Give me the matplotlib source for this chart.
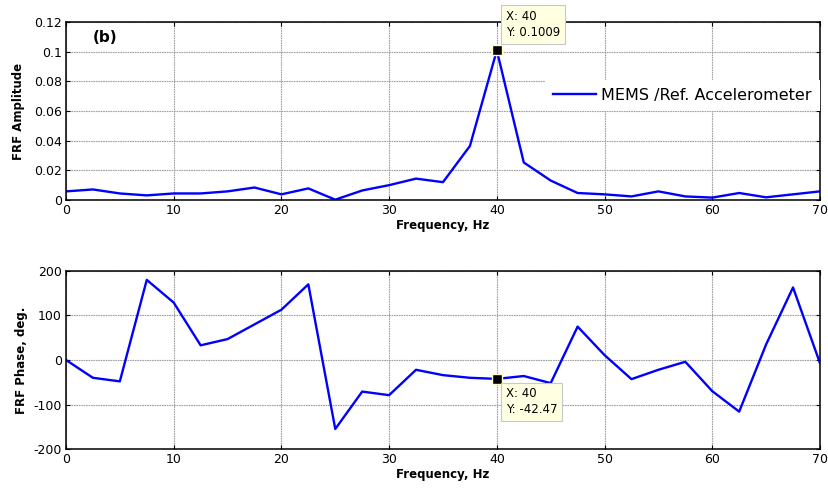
"""FRF amplitude and phase of MEMS vs reference accelerometer (MATLAB-style figure)."""

import matplotlib

matplotlib.use("Agg")
import matplotlib.pyplot as plt

plt.rcParams["font.family"] = ["DejaVu Sans"]
plt.rcParams["axes.unicode_minus"] = False

FREQ_HZ = [0, 2.5, 5, 7.5, 10, 12.5, 15, 17.5, 20, 22.5, 25, 27.5, 30, 32.5, 35,
           37.5, 40, 42.5, 45, 47.5, 50, 52.5, 55, 57.5, 60, 62.5, 65, 67.5, 70]
AMPLITUDE = [0.0058, 0.0071, 0.0044, 0.0031, 0.0044, 0.0044, 0.0058, 0.0084, 0.0038,
             0.0078, 0.0002, 0.0064, 0.0100, 0.0144, 0.0120, 0.0364, 0.1009, 0.0253,
             0.0131, 0.0047, 0.0038, 0.0024, 0.0058, 0.0024, 0.0016, 0.0047, 0.0018,
             0.0038, 0.0058]
PHASE_DEG = [0, -40, -48, 180, 129, 33, 47, 80, 113, 170, -155, -71, -79, -22, -34,
             -40, -42.47, -36, -52, 75, 11, -43, -22, -4, -70, -116, 35, 163, -7]

TIP_FREQ = 40
TIP_AMP = 0.1009
TIP_PHASE = -42.47

X_TICKS = [0, 10, 20, 30, 40, 50, 60, 70]
AMP_TICKS = [0, 0.02, 0.04, 0.06, 0.08, 0.1, 0.12]
AMP_TICK_LABELS = ["0", "0.02", "0.04", "0.06", "0.08", "0.1", "0.12"]
PHASE_TICKS = [-200, -100, 0, 100, 200]

LINE_COLOR = "#0000ff"
TIP_BOX = dict(boxstyle="square,pad=0.4", facecolor="#ffffe1", edgecolor="#c8c8c8", lw=0.8)


def style_axes(ax):
    ax.set_xlim(0, 70)
    ax.set_xticks(X_TICKS)
    ax.tick_params(direction="in", top=True, right=True, length=3, width=0.8,
                   labelsize=9, pad=3)
    ax.grid(True, color="#a0a0a0", linestyle=(0, (1.5, 0.7)), linewidth=0.8)
    for spine in ax.spines.values():
        spine.set_linewidth(1.1)
    ax.set_xlabel("Frequency, Hz", fontsize=8.5, fontweight="bold", labelpad=1)


fig = plt.figure(figsize=(8.29, 4.88), dpi=100)
ax_amp = fig.add_axes([0.0796, 0.5902, 0.9095, 0.3648])
ax_ph = fig.add_axes([0.0796, 0.0799, 0.9095, 0.3648])

ax_amp.plot(FREQ_HZ, AMPLITUDE, color=LINE_COLOR, lw=1.7, label="MEMS /Ref. Accelerometer")
ax_amp.set_ylim(0, 0.12)
ax_amp.set_yticks(AMP_TICKS, labels=AMP_TICK_LABELS)
style_axes(ax_amp)
ax_amp.set_ylabel("FRF Amplitude", fontsize=8.5, fontweight="bold", labelpad=6)
ax_amp.text(0.036, 0.915, "(b)", transform=ax_amp.transAxes, fontsize=11,
            fontweight="bold", va="center")
leg = ax_amp.legend(loc="upper right", bbox_to_anchor=(1.0, 0.675), fontsize=11.5,
                    frameon=True, fancybox=False, handlelength=2.7, borderpad=0.5,
                    handletextpad=0.35, borderaxespad=0)
leg.get_frame().set_edgecolor("white")
leg.get_frame().set_linewidth(0)
leg.get_frame().set_alpha(1.0)

ax_amp.plot([TIP_FREQ], [TIP_AMP], marker="s", ms=7, color="black",
            mec="#ffffcc", mew=1.0, zorder=5)
ax_amp.annotate(f"X: {TIP_FREQ}\nY: {TIP_AMP}", xy=(TIP_FREQ, TIP_AMP),
                xytext=(6.5, 8), textcoords="offset points", fontsize=8.5,
                ha="left", va="bottom", linespacing=1.3, bbox=TIP_BOX,
                annotation_clip=False, zorder=6)

ax_ph.plot(FREQ_HZ, PHASE_DEG, color=LINE_COLOR, lw=1.7)
ax_ph.set_ylim(-200, 200)
ax_ph.set_yticks(PHASE_TICKS)
style_axes(ax_ph)
ax_ph.set_ylabel("FRF Phase, deg.", fontsize=8.5, fontweight="bold", labelpad=4)

ax_ph.plot([TIP_FREQ], [TIP_PHASE], marker="s", ms=7, color="black",
           mec="#ffffcc", mew=1.0, zorder=5)
ax_ph.annotate(f"X: {TIP_FREQ}\nY: {TIP_PHASE}", xy=(TIP_FREQ, TIP_PHASE),
               xytext=(6.5, -6), textcoords="offset points", fontsize=8.5,
               ha="left", va="top", linespacing=1.3, bbox=TIP_BOX, zorder=6)

fig.savefig("out.png", dpi=100)
